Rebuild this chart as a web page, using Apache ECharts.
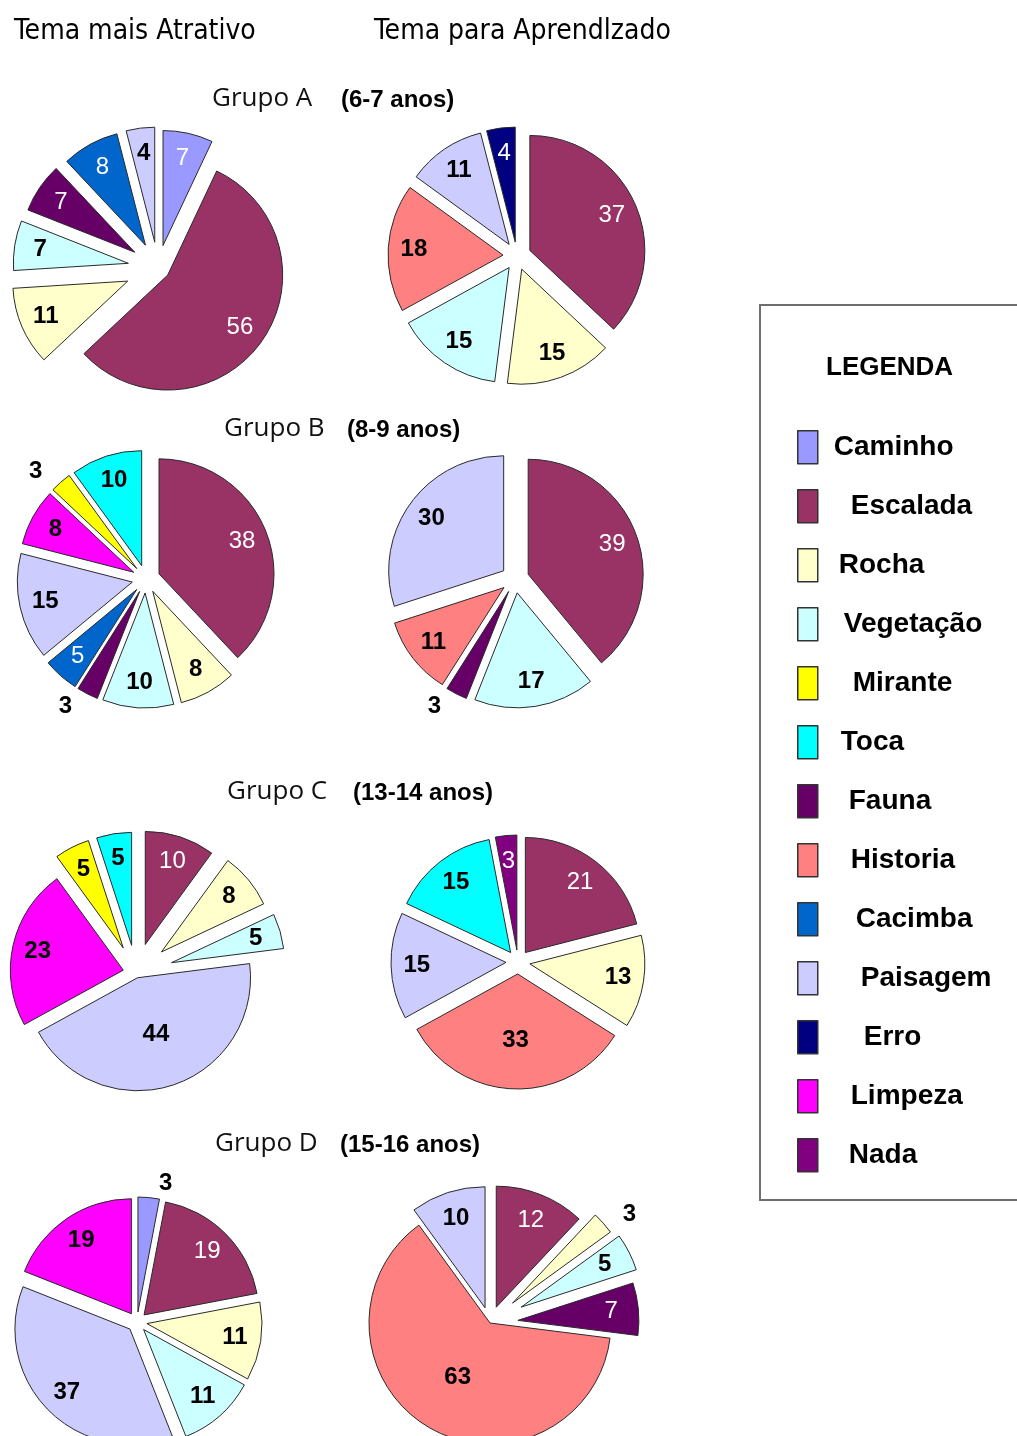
<!DOCTYPE html>
<html><head><meta charset="utf-8">
<script src="https://cdn.jsdelivr.net/npm/echarts@6/dist/echarts.min.js"></script>
<style>html,body{margin:0;padding:0;background:#fff}#c{width:1017px;height:1436px}</style>
</head><body><div id="c"></div>
<script>
// ---------- DATA ----------
const categories = ['Caminho','Escalada','Rocha','Vegetação','Mirante','Toca','Fauna','Historia','Cacimba','Paisagem','Erro','Limpeza','Nada'];
const columnTitles = ['Tema mais Atrativo','Tema para Aprendlzado'];
const groupNames = ['Grupo A','Grupo B','Grupo C','Grupo D'];
const groupAges = ['(6-7 anos)','(8-9 anos)','(13-14 anos)','(15-16 anos)'];

const aAtrCats = ['Caminho','Escalada','Rocha','Vegetação','Fauna','Cacimba','Paisagem'];
const aAtrVals = [7,56,11,7,7,8,4];
const aAprCats = ['Escalada','Rocha','Vegetação','Historia','Paisagem','Erro'];
const aAprVals = [37,15,15,18,11,4];
const bAtrCats = ['Escalada','Rocha','Vegetação','Fauna','Cacimba','Paisagem','Limpeza','Mirante','Toca'];
const bAtrVals = [38,8,10,3,5,15,8,3,10];
const bAprCats = ['Escalada','Vegetação','Fauna','Historia','Paisagem'];
const bAprVals = [39,17,3,11,30];
const cAtrCats = ['Escalada','Rocha','Vegetação','Paisagem','Limpeza','Mirante','Toca'];
const cAtrVals = [10,8,5,44,23,5,5];
const cAprCats = ['Escalada','Rocha','Historia','Paisagem','Toca','Nada'];
const cAprVals = [21,13,33,15,15,3];
const dAtrCats = ['Caminho','Escalada','Rocha','Vegetação','Paisagem','Limpeza'];
const dAtrVals = [3,19,11,11,37,19];
const dAprCats = ['Escalada','Rocha','Vegetação','Fauna','Historia','Paisagem'];
const dAprVals = [12,3,5,7,63,10];

// ---------- STYLE / LAYOUT ----------
const colorMap = {
  'Caminho':'#9999FF','Escalada':'#993366','Rocha':'#FFFFCC','Vegetação':'#CCFFFF',
  'Mirante':'#FFFF00','Toca':'#00FFFF','Fauna':'#660066','Historia':'#FF8080',
  'Cacimba':'#0066CC','Paisagem':'#CCCCFF','Erro':'#000080','Limpeza':'#FF00FF','Nada':'#800080'
};
const darkCats = ['Caminho','Escalada','Fauna','Cacimba','Erro','Nada'];
const legendIndent = [16,33,21,26,35,23,31,33,38,43,46,33,31];

const pies = [
  {cats:aAtrCats, vals:aAtrVals, center:[158,268], r:115, offsets:[23,12,33,30,28,26,26]},
  {cats:aAprCats, vals:aAprVals, center:[517,256], r:115, offsets:14},
  {cats:bAtrCats, vals:bAtrVals, center:[146,579], r:115, offsets:14, outside:['Fauna','Mirante']},
  {cats:bAprCats, vals:bAprVals, center:[515,579], r:115, offsets:14, outside:['Fauna']},
  {cats:cAtrCats, vals:cAtrVals, center:[136,973], r:113, offsets:[30,33,37,5,13,28,28], labelR:{'Paisagem':0.5}},
  {cats:cAprCats, vals:cAprVals, center:[518,962], r:115, offsets:12, labelR:{'Historia':0.55}},
  {cats:dAtrCats, vals:dAtrVals, center:[137,1322], r:115, offsets:10, outside:['Caminho']},
  {cats:dAprCats, vals:dAprVals, center:[490,1323], r:121, offsets:[17,30,35,28,0,16], outside:['Rocha'], labelR:{'Historia':0.5}}
];

const numFont = 'Liberation Sans, Arial, sans-serif';
const series = [];
pies.forEach(p => {
  const offs = p.cats.map((c,i) => Array.isArray(p.offsets) ? p.offsets[i] : p.offsets);
  const lrs = p.cats.map(c => (p.labelR && p.labelR[c] != null) ? p.labelR[c] : 0.75);
  const outs = p.outside || [];
  const keys = [...new Set(p.cats.map((c,i) => offs[i] + '|' + lrs[i]))];
  const sectorOffsets = [...new Set(offs)];
  // sector series (one per explode offset)
  sectorOffsets.forEach(off => {
    series.push({
      type:'pie', center:p.center, radius:[0,p.r], startAngle:90, clockwise:true,
      selectedMode:'multiple', selectedOffset:off, animation:false, avoidLabelOverlap:false,
      z:2, label:{show:false}, labelLine:{show:false}, emphasis:{disabled:true},
      data:p.cats.map((c,i) => ({
        name:c, value:p.vals[i], selected:true,
        itemStyle: offs[i] === off
          ? {color:colorMap[c], borderColor:'#2a2a2a', borderWidth:1}
          : {color:'rgba(0,0,0,0)', borderWidth:0}
      }))
    });
  });
  // label series (one per offset + label radius)
  keys.forEach(k => {
    const [off, lr] = k.split('|').map(Number);
    const r0 = Math.max(0, (2*lr - 1) * p.r);
    series.push({
      type:'pie', center:p.center, radius:[r0,p.r], startAngle:90, clockwise:true,
      selectedMode:'multiple', selectedOffset:off, animation:false, avoidLabelOverlap:false,
      silent:true, z:3, emphasis:{disabled:true}, legendHoverLink:false,
      data:p.cats.map((c,i) => {
        const mine = offs[i] === off && lrs[i] === lr;
        const out = outs.includes(c);
        const dark = darkCats.includes(c) && !out;
        return {
          name:c, value:p.vals[i], selected:true,
          itemStyle:{color:'rgba(0,0,0,0)', borderWidth:0},
          label: mine ? {
            show:true, position: out ? 'outside' : 'inside', formatter:'{c}',
            color: dark ? '#ffffff' : '#000000', fontWeight: dark ? 'normal' : 'bold',
            fontSize:24, fontFamily:numFont
          } : {show:false},
          labelLine:{show:false, length:14, length2:4}
        };
      })
    });
  });
});

const titles = [
  {text:columnTitles[0], left:9, top:13, textStyle:{fontSize:28, fontWeight:'normal', color:'#000', fontFamily:'DejaVu Sans Condensed, DejaVu Sans, sans-serif'}},
  {text:columnTitles[1], left:369, top:13, textStyle:{fontSize:28, fontWeight:'normal', color:'#000', fontFamily:'DejaVu Sans Condensed, DejaVu Sans, sans-serif'}},
  {text:'LEGENDA', left:821, top:350, textStyle:{fontSize:26, fontWeight:'bold', color:'#000', fontFamily:numFont}}
];
const groupLeft = [207,219,222,210];
const ageLeft = [336,342,348,335];
const groupTop = [81,411,774,1126];
groupNames.forEach((g,i) => {
  titles.push({text:g, left:groupLeft[i], top:groupTop[i], textStyle:{fontSize:26, fontWeight:'normal', color:'#111', fontFamily:'Open Sans, Noto Sans, sans-serif'}});
  titles.push({text:groupAges[i], left:ageLeft[i], top:groupTop[i]+2, textStyle:{fontSize:24, fontWeight:'bold', color:'#000', fontFamily:numFont}});
});

const chart = echarts.init(document.getElementById('c'), null, {renderer:'canvas'});
chart.setOption({
  backgroundColor:'#ffffff',
  animation:false,
  title:titles,
  graphic:[{type:'rect', z:0, shape:{x:760, y:305, width:290, height:895}, style:{fill:'none', stroke:'#6e6e6e', lineWidth:2}}],
  legend:{
    orient:'vertical', left:792, top:425, icon:'rect', itemWidth:20, itemHeight:33, itemGap:24.5,
    selectedMode:false,
    textStyle:{fontSize:28, fontWeight:'bold', color:'#000', fontFamily:numFont},
    data:categories.map((c,i) => ({
      name:c,
      itemStyle:{color:colorMap[c], borderColor:'#333', borderWidth:1.5},
      textStyle:{padding:[0,0,0,legendIndent[i]-5]}
    }))
  },
  series:series
});
</script></body></html>
